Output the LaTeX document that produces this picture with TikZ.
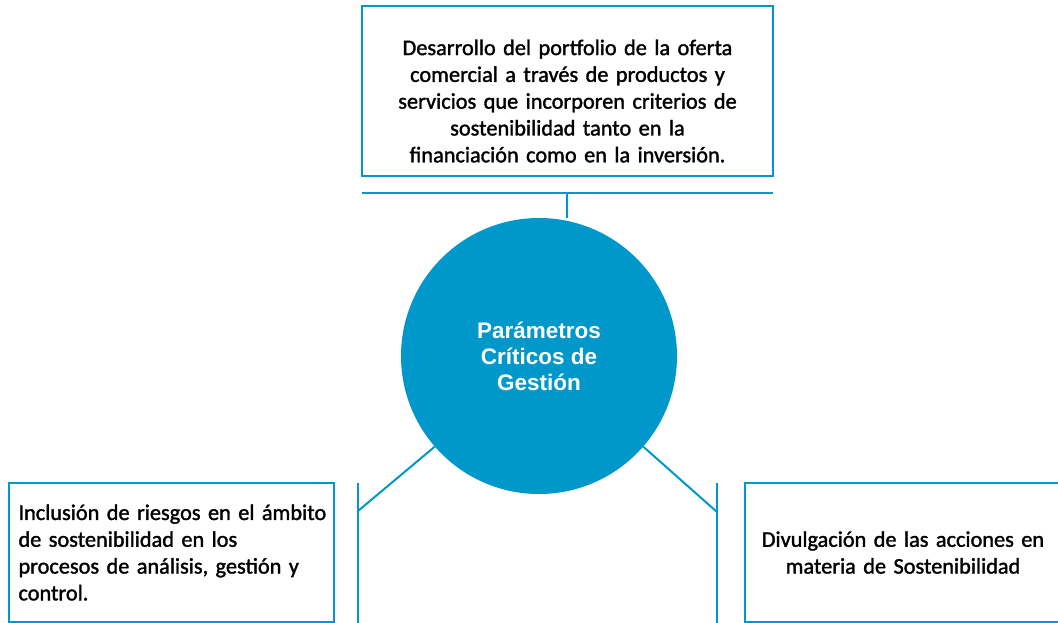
\documentclass[tikz,border=0pt]{standalone}
\usepackage{fontspec}
\newfontfamily\boxfont{Carlito}[FakeBold=1.5,WordSpace=0.6]
\newfontfamily\circfont{Liberation Sans}
\definecolor{cblue}{RGB}{0,152,202}
\begin{document}
\begin{tikzpicture}[x=1pt,y=-1pt,
  box/.style={draw=cblue,line width=2pt,inner sep=0pt,font=\boxfont\fontsize{22.3}{26.8}\selectfont},
  boxtext/.style={inner sep=0pt,font=\boxfont\fontsize{22.3}{26.8}\selectfont},
  link/.style={draw=cblue,line width=2pt}]
\clip (0,0) rectangle (1058,622);
\useasboundingbox (0,0) rectangle (1058,622);
% top box
\node[box,minimum width=411pt,minimum height=170pt] (top) at (567.5,91) {};
\node[boxtext,text width=395pt,align=center] (toptext) at (567.5,101)
  {Desarrollo del portfolio de la oferta\\comercial a través de productos y\\servicios que incorporen criterios de\\sostenibilidad tanto en la\\financiación como en la inversión.};
% circle
\node[circle,fill=cblue,minimum size=276pt,inner sep=0pt,text=white,align=center,
  font=\circfont\bfseries\fontsize{22.5}{26}\selectfont] (c) at (539,356)
  {Parámetros\\Críticos de\\Gestión};
% left box
\node[box,minimum width=325pt,minimum height=139pt,text width=305pt,align=left] (left) at (171,552.5)
  {\mbox{Inclusión de riesgos en el ámbito}\\\mbox{de sostenibilidad en los}\\\mbox{procesos de análisis, gestión y}\\control.};
% right box
\node[box,minimum width=316pt,minimum height=139pt,text width=300pt,align=center] (right) at (903,552.5)
  {Divulgación de las acciones en\\materia de Sostenibilidad};
% connectors
\coordinate (tbl) at (362,193);
\coordinate (tbr) at (773,193);
\coordinate (tbm) at (567,193);
\draw[link] (tbl) -- (tbr);
\draw[link] (tbm) -- (c.north -| tbm);
\coordinate (lb1) at (358,483);
\coordinate (lb2) at (358,624);
\coordinate (lbj) at (358,511);
\draw[link] (lb1) -- (lb2);
\draw[link] (lbj) -- (c.-139);
\coordinate (rb1) at (717,483);
\coordinate (rb2) at (717,624);
\coordinate (rbj) at (717,512);
\draw[link] (rb1) -- (rb2);
\draw[link] (rbj) -- (c.-41);
\end{tikzpicture}
\end{document}
